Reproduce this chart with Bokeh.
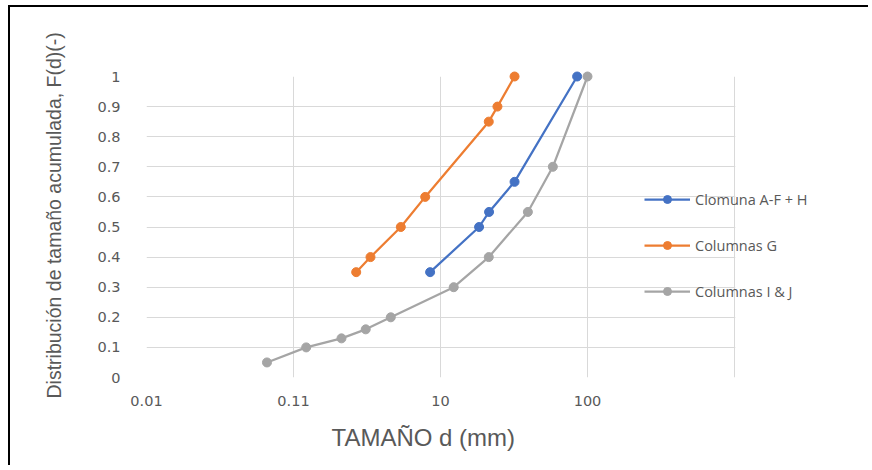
from bokeh.plotting import figure
from bokeh.models import FixedTicker, Range1d, Legend, LegendItem, BoxAnnotation, Title
from bokeh.embed import file_html
from bokeh.resources import INLINE

# ---- data (d in mm, F(d) cumulative) ----
blue_d = [8.5, 18.3, 21.4, 31.9, 85.0]
blue_f = [0.35, 0.50, 0.55, 0.65, 1.00]

orange_d = [2.67, 3.34, 5.37, 7.87, 21.3, 24.4, 31.9]
orange_f = [0.35, 0.40, 0.50, 0.60, 0.85, 0.90, 1.00]

gray_d = [0.66, 1.22, 2.12, 3.10, 4.59, 12.3, 21.3, 39.3, 58.1, 100.0]
gray_f = [0.05, 0.10, 0.13, 0.16, 0.20, 0.30, 0.40, 0.55, 0.70, 1.00]

series_names = ["Clomuna A-F + H", "Columnas G", "Columnas I & J"]
series_colors = ["#4472C4", "#ED7D31", "#A5A5A5"]

x_ticks = [0.1, 1, 10, 100, 1000]
x_tick_labels = ["0.01", "0.11", "10", "100", ""]
y_ticks = [0, 0.1, 0.2, 0.3, 0.4, 0.5, 0.6, 0.7, 0.8, 0.9, 1.0]
y_tick_labels = ["0", "0.1", "0.2", "0.3", "0.4", "0.5", "0.6", "0.7", "0.8", "0.9", "1"]

x_title = "TAMAÑO d (mm)"
y_title = "Distribución de tamaño acumulada, F(d)(-)"

# plot area: last x gridline (1000) sits 136 px before the canvas right edge;
# the frame is extended to the right so the legend is not clipped, and the
# extra area is masked in white.
W, H = 860, 460
LEFT, TOP, BOTTOM = 136, 69, 90
DECADE = 147.0
frame_w = W - LEFT
x_end = 0.1 * 10 ** (frame_w / DECADE)

p = figure(width=W, height=H, x_axis_type="log", output_backend="svg",
           toolbar_location=None, x_range=Range1d(0.1, x_end), y_range=Range1d(0, 1),
           min_border_left=LEFT, min_border_right=0, min_border_top=TOP,
           min_border_bottom=BOTTOM,
           styles={"border-top": "2px solid #000", "border-left": "2px solid #000",
                   "border-right": "0px none", "border-bottom": "0px none",
                   "outline": "none", "box-shadow": "none",
                   "margin-left": "8px", "margin-top": "5px"})
p.outline_line_color = None
p.background_fill_color = "white"
p.border_fill_color = "white"

GRID = "#d9d9d9"
TEXT = "#595959"

p.xaxis.ticker = FixedTicker(ticks=x_ticks)
p.yaxis.ticker = FixedTicker(ticks=y_ticks)
p.xaxis.major_label_overrides = {t: l for t, l in zip(x_ticks, x_tick_labels)}
p.yaxis.major_label_overrides = {t: l for t, l in zip(y_ticks, y_tick_labels)}
p.xgrid.ticker = FixedTicker(ticks=x_ticks)
p.ygrid.ticker = FixedTicker(ticks=y_ticks)
p.xgrid.grid_line_color = GRID
p.ygrid.grid_line_color = GRID
p.xgrid.minor_grid_line_color = None

# mask grid beyond the last vertical gridline
mask = BoxAnnotation(left=x_ticks[-1] * 1.012, fill_color="white", fill_alpha=1.0,
                     line_color=None, level="underlay")
p.add_layout(mask)

for ax in (p.xaxis, p.yaxis):
    ax.axis_line_color = None
    ax.major_tick_line_color = None
    ax.minor_tick_line_color = None
    ax.major_label_text_color = TEXT
    ax.major_label_text_font = "DejaVu Sans"
    ax.major_label_text_font_size = "14.5px"

p.xaxis.major_label_standoff = 12
p.yaxis.major_label_standoff = 20

# axis titles as Titles so they can be placed like the original
xt = Title(text=x_title, align="left", offset=185, standoff=27,
           text_font="Liberation Sans", text_font_size="24px",
           text_font_style="normal", text_color=TEXT)
p.add_layout(xt, "below")
yt = Title(text=y_title, align="left", offset=-21, standoff=59,
           text_font="Liberation Sans", text_font_size="19.5px",
           text_font_style="normal", text_color=TEXT)
p.add_layout(yt, "left")

items = []
for xs, ys, name, col in zip([blue_d, orange_d, gray_d], [blue_f, orange_f, gray_f],
                             series_names, series_colors):
    r1 = p.line(xs, ys, line_color=col, line_width=2.25, level="overlay")
    r2 = p.scatter(xs, ys, size=9, fill_color=col, line_color=col, level="overlay")
    items.append(LegendItem(label=name, renderers=[r1, r2]))

legend = Legend(items=items, location=(498, 76), background_fill_alpha=0,
                border_line_color=None, padding=0, margin=0, spacing=26,
                label_height=20, glyph_height=20, glyph_width=46,
                label_text_font="Open Sans", label_text_font_size="14.5px",
                label_text_color=TEXT, label_standoff=5)
p.add_layout(legend)

open("out.html", "w").write(file_html(p, INLINE))
